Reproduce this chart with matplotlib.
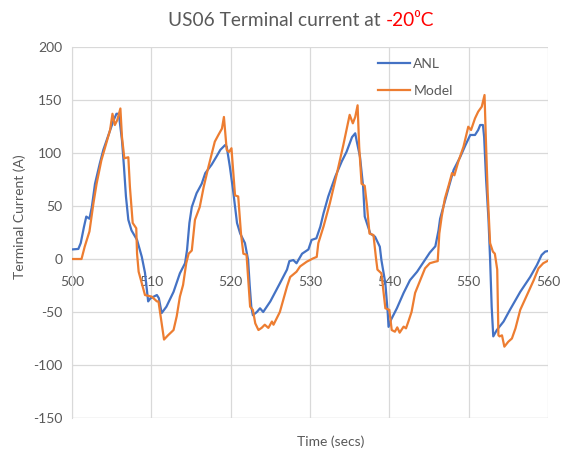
import matplotlib
matplotlib.use("Agg")
import matplotlib.pyplot as plt

plt.rcParams['font.family'] = ['Lato', 'DejaVu Sans']
plt.rcParams['axes.unicode_minus'] = False

# US06 drive cycle, terminal current at -20 C
time_anl = [500.0, 500.8, 501.1, 501.5, 501.8, 502.2, 502.5, 502.9, 503.5, 503.95, 504.6, 505.2,
            505.6, 505.9, 506.3, 506.55, 506.8, 507.1, 507.5, 508.2, 508.8, 509.2, 509.6, 509.9,
            510.7, 510.95, 511.3, 511.9, 512.8, 513.6, 514.25, 514.5, 514.8, 515.1, 515.7, 516.35,
            516.8, 517.6, 518.2, 518.7, 519.3, 519.5, 519.9, 520.3, 520.8, 521.2, 521.8, 522.2,
            522.4, 522.6, 522.8, 523.3, 523.7, 524.1, 525.0, 526.2, 527.1, 527.4, 527.9, 528.3,
            529.0, 529.8, 530.2, 530.8, 531.3, 531.7, 532.3, 533.2, 534.0, 534.6, 535.3, 535.7,
            535.9, 536.3, 536.7, 536.9, 537.6, 538.2, 538.8, 539.0, 539.5, 539.8, 539.9, 540.2,
            540.95, 541.8, 542.6, 543.5, 544.3, 545.1, 545.8, 546.2, 546.4, 546.8, 547.5, 548.1,
            548.95, 549.6, 550.2, 550.8, 551.2, 551.45, 551.8, 551.95, 552.2, 552.5, 552.7, 552.9,
            553.1, 553.55, 554.4, 555.2, 556.5, 557.75, 558.6, 559.2, 559.65, 560.0]
current_anl = [9, 9.5, 15, 30, 40, 38, 49, 71, 90, 103, 117, 130,
               137, 137, 112, 87, 59, 37, 27, 18, 2, -13, -40, -37,
               -34, -37, -51, -45, -31, -13.5, -4, 8.5, 34, 49, 62, 71,
               81, 89, 96.5, 103, 107.5, 106, 87, 65, 34, 24, 15, -1,
               -25, -45, -53, -50, -46.5, -50, -40, -23, -10, -2, -1, -4,
               5, 9, 18, 19.5, 30.5, 43, 59, 78, 92, 101, 115, 118.6,
               110.7, 96.5, 68, 40, 24, 21, 11.6, -1, -23, -51, -64, -57.5,
               -46.5, -32, -20, -12, -3, 6, 12, 27, 38, 49, 68, 84,
               96.5, 107.5, 117, 117, 121.7, 126.4, 126.4, 115, 74.5, 37, 0, -45,
               -73, -67, -59, -48, -31, -17, -5.7, 3.8, 7, 7.5]

time_model = [500.0, 501.2, 501.6, 502.2, 502.7, 503.1, 503.7, 504.2, 504.8, 505.1, 505.4, 505.7,
              506.1, 506.3, 506.6, 507.1, 507.3, 507.65, 508.1, 508.2, 508.4, 508.8, 509.2, 510.05,
              510.7, 510.9, 511.3, 511.6, 512.1, 512.8, 513.2, 513.6, 514.0, 514.4, 514.7, 515.1,
              515.5, 516.1, 516.6, 517.2, 518.0, 518.45, 518.9, 519.15, 519.5, 519.8, 520.1, 520.55,
              520.95, 521.3, 521.6, 522.0, 522.45, 522.8, 523.1, 523.5, 523.9, 524.3, 524.75, 525.2,
              525.4, 526.2, 527.1, 527.5, 528.3, 528.75, 529.6, 530.0, 530.4, 530.85, 531.05, 531.7,
              532.5, 533.4, 534.2, 535.0, 535.4, 535.7, 536.0, 536.2, 536.5, 536.9, 537.2, 537.5,
              538.0, 538.3, 538.5, 539.0, 539.5, 540.0, 540.3, 540.7, 541.0, 541.3, 541.8, 542.1,
              542.4, 542.8, 543.25, 543.9, 544.5, 545.1, 545.8, 546.1, 546.3, 546.6, 547.0, 547.5,
              547.9, 548.2, 548.7, 549.35, 549.95, 550.3, 550.8, 551.2, 551.65, 552.0, 552.2, 552.4,
              552.7, 553.05, 553.3, 553.6, 553.75, 553.9, 554.2, 554.5, 555.0, 555.45, 555.9, 556.5,
              557.35, 558.2, 558.8, 559.4, 560.0]
current_model = [0, 0, 11.6, 26, 52.5, 71, 93, 106, 121.7, 137, 126.4, 131,
                 142, 115, 95, 96, 68, 34, 29, 5, -12, -23, -34, -35.5,
                 -40, -40, -60.7, -76, -72, -67, -54, -35.5, -24.5, -4, 5, 8,
                 37, 49, 68, 87, 110.7, 117, 123, 134, 103, 101, 104.5, 60,
                 59, 24, 5, 4, -45, -48, -60.7, -67, -65, -62, -65, -59,
                 -62, -50, -26, -17, -12, -7, -2.5, -1, 0.6, 2, 15, 30.5,
                 52.5, 81, 107.5, 136, 128, 134, 145, 106, 71, 69, 49, 24,
                 22.6, 2, -10, -13.5, -46.5, -48, -67, -68.6, -64.5, -69.5, -63.8, -65.4,
                 -59, -50, -32, -20, -8.8, -4, -2.5, -2, 24, 40, 57, 70,
                 81, 79, 92, 106, 124.8, 121.7, 132.7, 139, 143.7, 154.7, 106, 62,
                 15, 7, 5, -10, -72, -73, -72, -82.7, -78, -75, -65.4, -48,
                 -34, -20, -8.8, -4, -1.6]

x_ticks = [500, 510, 520, 530, 540, 550, 560]
y_ticks = [-150, -100, -50, 0, 50, 100, 150, 200]

text_grey = '#595959'
grid_grey = '#D9D9D9'

fig = plt.figure(figsize=(5.64, 4.57), dpi=100)
ax = fig.add_axes([72 / 564, 1 - 418 / 457, (548 - 72) / 564, (418 - 47) / 457])

ax.plot(time_anl, current_anl, color='#4472C4', lw=1.6, label='ANL', zorder=3)
ax.plot(time_model, current_model, color='#ED7D31', lw=1.6, label='Model', zorder=4)

ax.set_xlim(500, 560)
ax.set_ylim(-150, 200)
ax.set_xticks(x_ticks)
ax.set_yticks(y_ticks)
ax.grid(True, color=grid_grey, lw=0.9, zorder=0)
ax.set_axisbelow(True)

for side in ['top', 'right']:
    ax.spines[side].set_visible(False)
ax.spines['left'].set_color(grid_grey)
ax.spines['bottom'].set_color(grid_grey)
ax.spines['bottom'].set_position(('data', 0))
ax.tick_params(axis='both', length=0, labelsize=10, labelcolor=text_grey)
ax.tick_params(axis='x', pad=12)
ax.tick_params(axis='y', pad=7)
# the bottom edge of the plot still gets a grid line at -150
ax.axhline(-150, color=grid_grey, lw=0.9, zorder=0)

ax.legend(loc='upper left', bbox_to_anchor=(378 / 564, 1 - 58 / 457), bbox_transform=fig.transFigure,
          frameon=False, fontsize=10, labelcolor=text_grey, handlelength=2.3, handletextpad=0.25,
          labelspacing=1.1, borderaxespad=0, borderpad=0)

ax.set_ylabel('Terminal Current (A)', fontsize=10, color=text_grey)
ax.yaxis.set_label_coords(26 / 564, 1 - 217 / 457, transform=fig.transFigure)
fig.text(331 / 564, 1 - 442 / 457, 'Time (secs)', fontsize=10, color=text_grey,
         ha='center', va='center')

# two-colour title, centred as one line
title_size = 13.8
title_y = 1 - 26 / 457
t1 = fig.text(0, title_y, 'US06 Terminal current at ', fontsize=title_size,
              color=text_grey, ha='left', va='baseline')
t2 = fig.text(0, title_y, '-20\u2070C', fontsize=title_size,
              color='#FF0000', ha='left', va='baseline')
fig.canvas.draw()
w1 = t1.get_window_extent().width
w2 = t2.get_window_extent().width
x_start = 301 - (w1 + w2) / 2
t1.set_x(x_start / fig.bbox.width)
t2.set_x((x_start + w1) / fig.bbox.width)

fig.savefig('out.png', dpi=100)
